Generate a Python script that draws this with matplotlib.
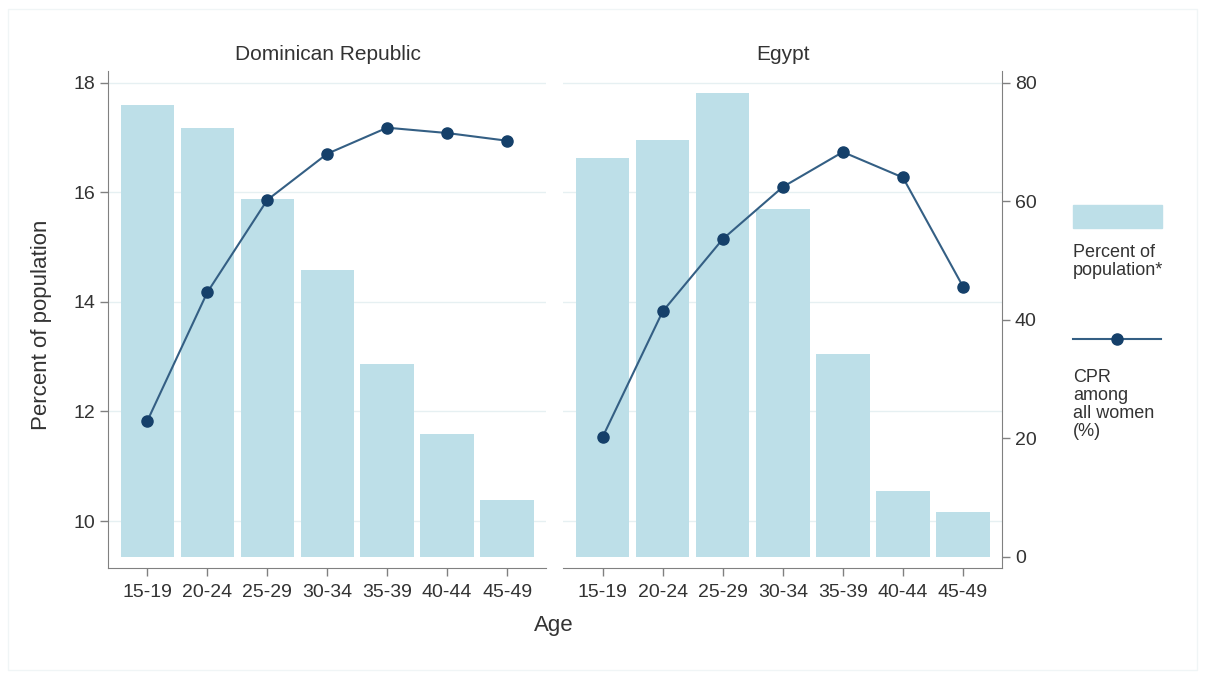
import numpy as np
import matplotlib
matplotlib.use("Agg")
import matplotlib.pyplot as plt
from matplotlib.patches import Rectangle
from matplotlib.lines import Line2D

# values
ages = ["15-19", "20-24", "25-29", "30-34", "35-39", "40-44", "45-49"]
dr_pop = [17.59, 17.17, 15.87, 14.58, 12.86, 11.58, 10.38]
dr_cpr = [22.9, 44.6, 60.2, 68.0, 72.4, 71.5, 70.2]
eg_pop = [16.62, 16.95, 17.82, 15.70, 13.04, 10.55, 10.17]
eg_cpr = [20.2, 41.4, 53.6, 62.4, 68.3, 64.0, 45.6]
panels = ["Dominican Republic", "Egypt"]
pop_ticks = [10, 12, 14, 16, 18]
cpr_ticks = [0, 20, 40, 60, 80]

bar_col = "#bddfe8"
line_col = "#345f84"
dot_col = "#15406a"
axis_col = "#808080"
txt_col = "#333333"
grid_col = "#e6f0f2"
BASE = 9.35  # bars start where the CPR axis is 0

plt.rcParams["font.family"] = ["Liberation Sans", "DejaVu Sans"]

W, H = 1205, 678
fig = plt.figure(figsize=(W / 100, H / 100), dpi=100)


def fx(px):
    return px / W


def fy(py):
    return 1 - py / H


top, bot = 71, 568.3
ax1 = fig.add_axes([fx(108), fy(bot), fx(546.4 - 108), (bot - top) / H])
ax2 = fig.add_axes([fx(563.3), fy(bot), fx(1002.3 - 563.3), (bot - top) / H])

x = np.arange(len(ages))
for ax, pop, cpr in [(ax1, dr_pop, dr_cpr), (ax2, eg_pop, eg_cpr)]:
    ax.set_ylim(9.137, 18.214)
    ax.set_xlim(-0.655, 6.655)
    for t in pop_ticks:
        ax.axhline(t, color=grid_col, lw=1, zorder=0)
    ax.bar(x, np.array(pop) - BASE, bottom=BASE, width=0.89, color=bar_col, zorder=1)
    ax.set_xticks(x)
    ax.set_xticklabels(ages)
    ax.tick_params(axis="x", labelsize=14, length=6, width=1, color=axis_col,
                   labelcolor=txt_col, pad=5)
    for s in ["top", "right"]:
        ax.spines[s].set_visible(False)
    ax.spines["bottom"].set_color(axis_col)
    ax.spines["left"].set_color(axis_col)

    axr = ax.twinx()
    axr.set_ylim(-1.958, 81.97)
    axr.plot(x, cpr, color=line_col, lw=1.5, marker="o", ms=8,
             mfc=dot_col, mec=dot_col, zorder=3)
    axr.set_yticks(cpr_ticks)
    axr.tick_params(axis="y", labelsize=14, length=6, width=1, color=axis_col,
                    labelcolor=txt_col, pad=3)
    for s in ["top", "left", "bottom"]:
        axr.spines[s].set_visible(False)
    axr.spines["right"].set_color(axis_col)
    if ax is ax1:
        axr.spines["right"].set_visible(False)
        axr.set_yticks([])

# left panel: percent axis
ax1.set_yticks(pop_ticks)
ax1.tick_params(axis="y", labelsize=14, length=6, width=1, color=axis_col,
                labelcolor=txt_col, pad=3)
# right panel: no left axis
ax2.spines["left"].set_visible(False)
ax2.set_yticks([])

# panel titles and axis titles
fig.text(fx(327.6), fy(54), panels[0], ha="center", va="center", fontsize=15, color=txt_col)
fig.text(fx(782.5), fy(54), panels[1], ha="center", va="center", fontsize=15, color=txt_col)
fig.text(fx(42), fy(325), "Percent of population", rotation=90, ha="center",
         va="center", fontsize=16, color=txt_col)
fig.text(fx(554), fy(625), "Age", ha="center", va="center", fontsize=16, color=txt_col)

# legend on the right
fig.add_artist(Rectangle((fx(1073), fy(228.3)), fx(88.5), 23.3 / H,
                         transform=fig.transFigure, color=bar_col))
fig.text(fx(1073), fy(244), "Percent of\npopulation*", ha="left", va="top",
         fontsize=13, color=txt_col, linespacing=1.08)
fig.add_artist(Line2D([fx(1073), fx(1161)], [fy(339.3)] * 2, color=line_col,
                      lw=1.5, transform=fig.transFigure))
fig.add_artist(Line2D([fx(1117)], [fy(339.3)], marker="o", ms=8, mfc=dot_col,
                      mec=dot_col, transform=fig.transFigure))
fig.text(fx(1073), fy(369), "CPR\namong\nall women\n(%)", ha="left", va="top",
         fontsize=13, color=txt_col, linespacing=1.08)

# faint outer frame
fig.add_artist(Rectangle((fx(8), fy(670)), fx(1189), 661 / H, transform=fig.transFigure,
                         fill=False, ec="#f0f5f6", lw=1))

fig.savefig("out.png", dpi=100)
